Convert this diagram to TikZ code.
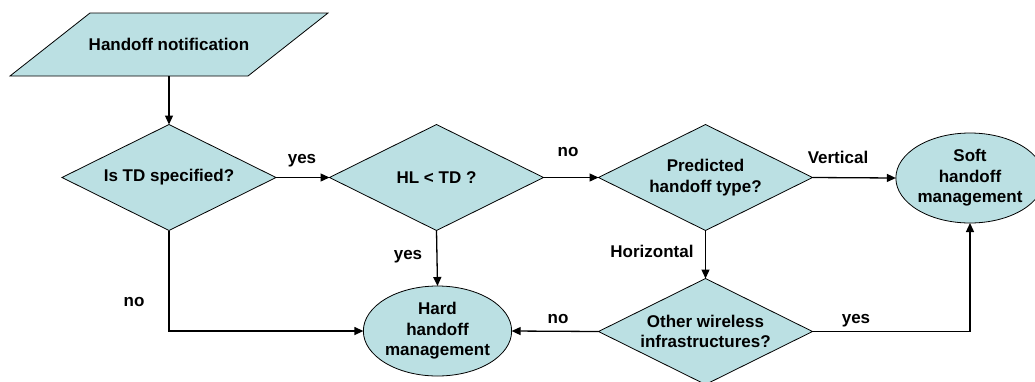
\documentclass[tikz,border=0pt]{standalone}
\usepackage{fontspec}
\setmainfont{Liberation Sans}
\usetikzlibrary{shapes.geometric,arrows.meta,backgrounds,calc}
\definecolor{boxfill}{RGB}{187,224,227}
\begin{document}
\begin{tikzpicture}[x=1pt,y=-1pt,
  every node/.style={font=\fontsize{17}{20.5}\selectfont\bfseries, align=center, outer sep=0pt},
  dec/.style={diamond, draw, line width=0.8pt, fill=boxfill, minimum width=214pt, minimum height=106pt, inner sep=0pt, aspect=2},
  term/.style={ellipse, draw, line width=0.8pt, fill=boxfill, minimum width=145pt, minimum height=90pt, inner sep=0pt},
  arr/.style={line width=1.3pt, -{Triangle[length=9pt,width=8pt]}},
  lbl/.style={inner sep=0pt, anchor=base}]
\useasboundingbox (0,0) rectangle (1035,381);
\clip (0,0) rectangle (1035,381);
% input
\node[minimum width=318pt, minimum height=63pt, inner sep=0pt] (hn) at (169,44.5) {Handoff notification};
\begin{scope}[on background layer]
\draw[line width=0.8pt, fill=boxfill] ($(hn.north west)+(80,0)$) -- (hn.north east) -- ($(hn.south east)-(80,0)$) -- (hn.south west) -- cycle;
\end{scope}
% decisions
\node[dec] (d1) at (169,177.5) {Is TD specified?};
\node[dec] (d2) at (436.5,177.5) {HL < TD ?};
\node[dec] (d3) at (705.5,177.5) {Predicted\\handoff type?};
\node[dec] (d4) at (705.5,331.5) {Other wireless\\infrastructures?};
% terminals
\node[term] (soft) at (970,178) {Soft\\handoff\\management};
\node[term] (hard) at (437.5,331) {Hard\\handoff\\management};
% connectors
\draw[arr] (hn.south) -- (d1.north);
\draw[arr] (d1.east) -- (d2.west);
\draw[arr] (d2.east) -- (d3.west);
\draw[arr] (d3.east) -- (soft.west);
\draw[arr] (d3.south) -- (d4.north);
\draw[arr] (d2.south) -- (hard.north);
\draw[arr] (d1.south) |- (hard.west);
\draw[arr] (d4.west) -- (hard.east);
\draw[arr] (d4.east) -| (soft.south);
% labels
\node[lbl] (l1) at (302,163) {yes};
\node[lbl] (l2) at (568,156) {no};
\node[lbl] (l3) at (838,163) {Vertical};
\node[lbl] (l4) at (652,257) {Horizontal};
\node[lbl] (l5) at (408,259) {yes};
\node[lbl] (l6) at (134,306) {no};
\node[lbl] (l7) at (558,323) {no};
\node[lbl] (l8) at (856,323) {yes};
\end{tikzpicture}
\end{document}
